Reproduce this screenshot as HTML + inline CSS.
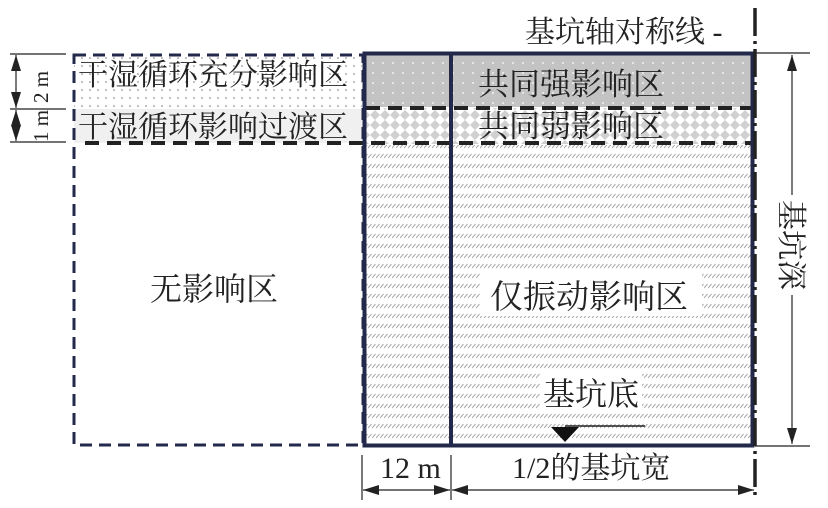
<!DOCTYPE html>
<html><head><meta charset="utf-8"><style>
html,body{margin:0;padding:0;background:#fff;}
svg{display:block;}
text{font-family:"Liberation Serif","Noto Serif CJK SC",serif;fill:#222;}
</style></head><body>
<svg width="828" height="508" viewBox="0 0 828 508" xmlns="http://www.w3.org/2000/svg">
<defs>
<pattern id="dots" width="8" height="8" patternUnits="userSpaceOnUse"><rect width="8" height="8" fill="#fff"/><circle cx="2" cy="2" r="0.8" fill="#777"/></pattern>
<pattern id="gdots" width="10" height="10" patternUnits="userSpaceOnUse"><rect width="10" height="10" fill="#c3c3c3"/><circle cx="3" cy="3" r="0.9" fill="#fff"/></pattern>
<pattern id="diam" width="10" height="10" patternUnits="userSpaceOnUse"><rect width="10" height="10" fill="#fff"/><path d="M5 0 L10 5 L5 10 L0 5Z" fill="#d0d0d0"/></pattern>
<pattern id="hatch" width="4" height="10" patternUnits="userSpaceOnUse"><rect width="4" height="10" fill="#fff"/><line x1="0" y1="8" x2="3.5" y2="4" stroke="#aaa" stroke-width="1"/></pattern>
<marker id="bar" markerWidth="16" markerHeight="10" refX="16" refY="5" orient="auto-start-reverse" markerUnits="userSpaceOnUse"><path d="M0 0 L16 5 L0 10Z" fill="#222"/></marker>
</defs>

<rect x="74" y="56" width="288" height="52" fill="url(#dots)"/>
<rect x="74" y="109" width="288" height="34" fill="#f0f0f0"/>
<rect x="366" y="55" width="386" height="52" fill="url(#gdots)"/>
<rect x="366" y="108" width="386" height="36" fill="url(#diam)"/>
<rect x="366" y="145" width="386" height="299" fill="url(#hatch)"/>

<rect x="74" y="55" width="289" height="390" fill="none" stroke="#23294a" stroke-width="3" stroke-dasharray="12,7"/>
<line x1="366" y1="108" x2="752" y2="108" stroke="#222" stroke-width="4" stroke-dasharray="14,8"/>
<line x1="85" y1="143" x2="752" y2="143" stroke="#222" stroke-width="4" stroke-dasharray="14,8"/>
<rect x="364.5" y="53.5" width="388" height="392" fill="none" stroke="#23294a" stroke-width="4"/>
<line x1="451" y1="53" x2="451" y2="446" stroke="#23294a" stroke-width="4"/>

<line x1="755" y1="8" x2="755" y2="500" stroke="#222" stroke-width="3.5" stroke-dasharray="28,5,3,5"/>
<text x="525" y="42" font-size="30">基坑轴对称线 -</text>

<line x1="755" y1="53" x2="810" y2="53" stroke="#222" stroke-width="1.2"/>
<line x1="755" y1="446" x2="810" y2="446" stroke="#222" stroke-width="1.2"/>
<line x1="792" y1="55" x2="792" y2="444" stroke="#222" stroke-width="1.2" marker-start="url(#bar)" marker-end="url(#bar)"/>
<rect x="778" y="195" width="28" height="100" fill="#fff"/>
<text x="0" y="0" font-size="30" transform="translate(781,200) rotate(90)">基坑深</text>

<line x1="10" y1="54" x2="66" y2="54" stroke="#222" stroke-width="1.2"/>
<line x1="10" y1="109" x2="66" y2="109" stroke="#222" stroke-width="1.2"/>
<line x1="10" y1="142" x2="66" y2="142" stroke="#222" stroke-width="1.2"/>
<line x1="16" y1="55" x2="16" y2="108" stroke="#222" stroke-width="1.2" marker-start="url(#bar)" marker-end="url(#bar)"/>
<line x1="16" y1="110" x2="16" y2="141" stroke="#222" stroke-width="1.2" marker-start="url(#bar)" marker-end="url(#bar)"/>
<text font-size="21" transform="translate(48,103) rotate(-90)">2 m</text>
<text font-size="21" transform="translate(48,142) rotate(-90)">1 m</text>

<text x="78" y="85" font-size="30">干湿循环充分影响区</text>
<text x="78" y="137" font-size="30">干湿循环影响过渡区</text>
<text x="478" y="95" font-size="31">共同强影响区</text>
<text x="478" y="137" font-size="31">共同弱影响区</text>
<text x="150" y="300" font-size="32">无影响区</text>
<rect x="480" y="272" width="222" height="44" fill="#fff"/>
<text x="490" y="308" font-size="33">仅振动影响区</text>
<rect x="540" y="372" width="102" height="40" fill="#fff"/>
<text x="543" y="405" font-size="32">基坑底</text>
<path d="M551 427 L579 427 L565 442Z" fill="#111"/>
<line x1="565" y1="426" x2="645" y2="426" stroke="#222" stroke-width="1.5"/>

<line x1="362" y1="455" x2="362" y2="500" stroke="#222" stroke-width="1.2"/>
<line x1="451" y1="455" x2="451" y2="500" stroke="#222" stroke-width="1.2"/>
<line x1="363" y1="490" x2="450" y2="490" stroke="#222" stroke-width="1.2" marker-start="url(#bar)" marker-end="url(#bar)"/>
<line x1="452" y1="490" x2="754" y2="490" stroke="#222" stroke-width="1.2" marker-start="url(#bar)" marker-end="url(#bar)"/>
<text x="380" y="478" font-size="30">12 m</text>
<text x="512" y="478" font-size="30">1/2的基坑宽</text>
</svg>
</body></html>
